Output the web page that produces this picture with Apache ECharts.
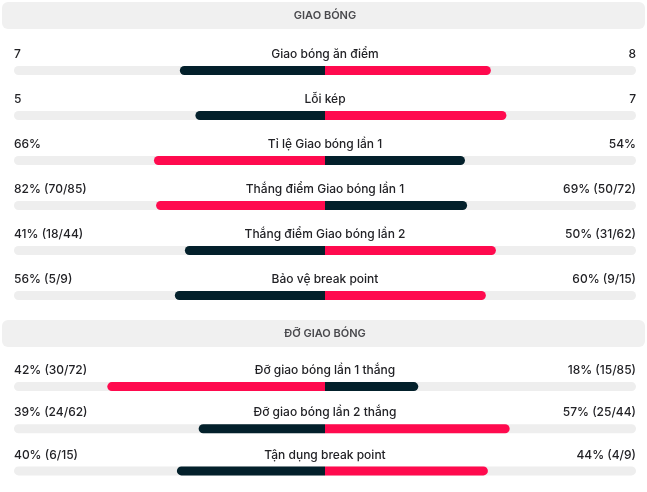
<!DOCTYPE html>
<html><head><meta charset="utf-8">
<script src="https://cdn.jsdelivr.net/npm/echarts@6/dist/echarts.min.js"></script>
<style>html,body{margin:0;padding:0;background:#fff}#c{width:647px;height:492px}</style>
</head><body><div id="c"></div>
<script>
var sectionTitles = ['GIAO BÓNG', 'ĐỠ GIAO BÓNG'];
var titles1 = ['Giao bóng ăn điểm', 'Lỗi kép', 'Tỉ lệ Giao bóng lần 1', 'Thắng điểm Giao bóng lần 1', 'Thắng điểm Giao bóng lần 2', 'Bảo vệ break point'];
var left1 = [7, 5, 66, 82, 41, 56];
var right1 = [8, 7, 54, 69, 50, 60];
var leftText1 = ['7', '5', '66%', '82% (70/85)', '41% (18/44)', '56% (5/9)'];
var rightText1 = ['8', '7', '54%', '69% (50/72)', '50% (31/62)', '60% (9/15)'];
var titles2 = ['Đỡ giao bóng lần 1 thắng', 'Đỡ giao bóng lần 2 thắng', 'Tận dụng break point'];
var left2 = [42, 39, 40];
var right2 = [18, 57, 44];
var leftText2 = ['42% (30/72)', '39% (24/62)', '40% (6/15)'];
var rightText2 = ['18% (15/85)', '57% (25/44)', '44% (4/9)'];

var DARK = '#03202b', RED = '#ff0a4e', TRACK = '#eeeeee', TXT = '#222226';
var FONT = 'Inter';
var chart = echarts.init(document.getElementById('c'), null, {renderer: 'canvas'});

var sections = [
  {titles: titles1, left: left1, right: right1, lt: leftText1, rt: rightText1, top: 48},
  {titles: titles2, left: left2, right: right2, lt: leftText2, rt: rightText2, top: 365.5}
];
var grids = [], xAxes = [], yAxes = [], series = [];
var lab = {show: true, color: TXT, fontFamily: FONT, fontSize: 12, fontWeight: 500, verticalAlign: 'middle'};
sections.forEach(function (s, i) {
  var n = s.titles.length;
  grids.push({left: 14, right: 11, top: s.top, height: 45 * n});
  xAxes.push({gridIndex: i, type: 'value', min: 0, max: 2, show: false});
  yAxes.push({gridIndex: i, type: 'category', inverse: true, data: s.titles, show: false});
  var shareL = s.left.map(function (v, k) { return v / (v + s.right[k]); });
  var shareR = s.right.map(function (v, k) { return v / (v + s.left[k]); });
  var common = {type: 'bar', xAxisIndex: i, yAxisIndex: i, barWidth: 9, barGap: '-100%', silent: true, animation: false};
  series.push(Object.assign({}, common, {
    name: 'track' + i,
    data: s.titles.map(function () { return 2; }),
    itemStyle: {color: TRACK, borderRadius: 4.5},
    label: Object.assign({}, lab, {position: [0, -11.5], align: 'left',
      formatter: function (p) { return s.lt[p.dataIndex]; }})
  }));
  series.push(Object.assign({}, common, {
    name: 'lbase' + i, stack: 's' + i,
    data: shareL.map(function (v) { return 1 - v; }),
    itemStyle: {color: 'rgba(0,0,0,0)'}
  }));
  series.push(Object.assign({}, common, {
    name: 'left' + i, stack: 's' + i,
    data: shareL.map(function (v, k) {
      return {value: v, itemStyle: {color: s.left[k] > s.right[k] ? RED : DARK}};
    }),
    itemStyle: {borderRadius: [4.5, 0, 0, 4.5]}
  }));
  series.push(Object.assign({}, common, {
    name: 'right' + i, stack: 's' + i,
    data: shareR.map(function (v, k) {
      return {value: v, itemStyle: {color: s.right[k] > s.left[k] ? RED : DARK}};
    }),
    itemStyle: {borderRadius: [0, 4.5, 4.5, 0]},
    label: Object.assign({}, lab, {position: [0, -11.5], align: 'center',
      formatter: function (p) { return s.titles[p.dataIndex]; }}),
    markLine: {silent: true, symbol: 'none', label: {show: false},
      lineStyle: {color: '#ffffff', width: 2, type: 'solid'},
      data: s.titles.map(function (t, k) { return [{coord: [1, k - 0.12]}, {coord: [1, k + 0.12]}]; })}
  }));
  series.push(Object.assign({}, common, {
    name: 'rrest' + i, stack: 's' + i,
    data: shareR.map(function (v) { return 1 - v; }),
    itemStyle: {color: 'rgba(0,0,0,0)'},
    label: Object.assign({}, lab, {position: ['100%', -11.5], align: 'right',
      formatter: function (p) { return s.rt[p.dataIndex]; }})
  }));
});

var graphic = [];
[[2, 27], [320, 27]].forEach(function (h, i) {
  graphic.push({type: 'rect', silent: true, z: -1,
    shape: {x: 2, y: h[0], width: 643, height: h[1], r: 6},
    style: {fill: '#f0f0f0'}});
  graphic.push({type: 'text', silent: true, x: 325, y: h[0] + h[1] / 2,
    style: {text: sectionTitles[i], fill: '#4a4a4e', font: '600 11px Inter',
      align: 'center', verticalAlign: 'middle'}});
});

chart.setOption({
  animation: false,
  grid: grids, xAxis: xAxes, yAxis: yAxes, series: series, graphic: graphic
});
</script></body></html>
